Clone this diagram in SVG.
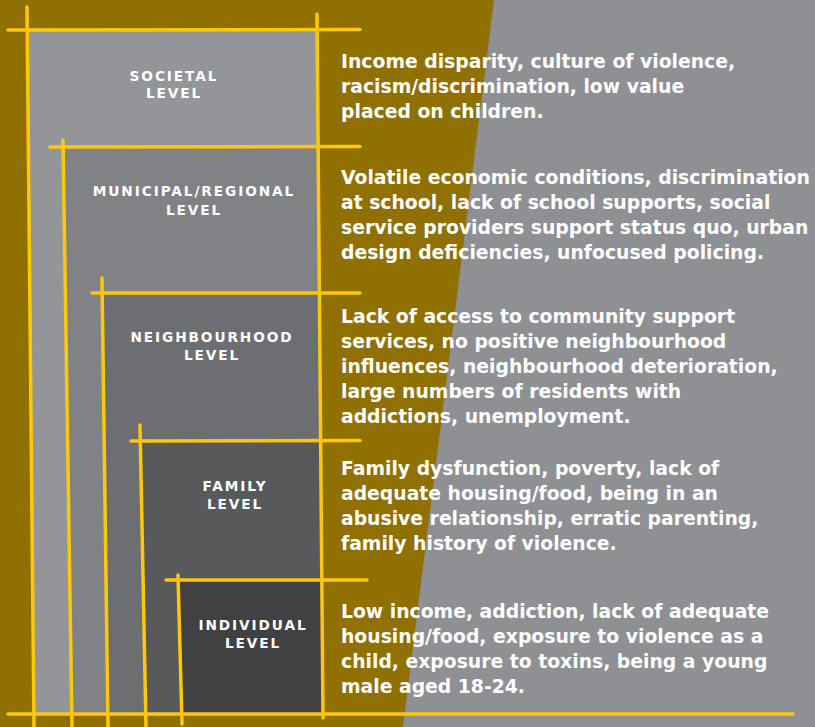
<svg xmlns="http://www.w3.org/2000/svg" width="815" height="727" viewBox="0 0 815 727">
<style>
.lbl{font-family:"DejaVu Sans","Open Sans",sans-serif;font-weight:700;font-size:13.7px;letter-spacing:1.9px;fill:#FFFFFF;text-anchor:middle}
.desc{font-family:"DejaVu Sans","Open Sans",sans-serif;font-weight:700;font-size:18.8px;fill:#FFFFFF}
.ln{stroke:#FDC80C;stroke-width:3.5;stroke-linecap:round;fill:none}
</style>
<rect x="0" y="0" width="815" height="727" fill="#8F7000"/>
<polygon points="494,0 815,0 815,727 403,727" fill="#8F9094"/>
<g id="societal">
<polygon points="27.2,30 317.1,30 323,714 33.8,714" fill="#939598"/>
<text class="lbl" x="174" y="80.5">SOCIETAL</text>
<text class="lbl" x="174" y="98">LEVEL</text>
<text class="desc" x="341" y="68">Income disparity, culture of violence,</text>
<text class="desc" x="341" y="93">racism/discrimination, low value</text>
<text class="desc" x="341" y="118">placed on children.</text>
</g>
<g id="municipal">
<polygon points="63.1,147 318.1,147 323,714 71.8,714" fill="#808285"/>
<text class="lbl" x="194" y="196">MUNICIPAL/REGIONAL</text>
<text class="lbl" x="194" y="214.5">LEVEL</text>
<text class="desc" x="341" y="184">Volatile economic conditions, discrimination</text>
<text class="desc" x="341" y="209">at school, lack of school supports, social</text>
<text class="desc" x="341" y="234">service providers support status quo, urban</text>
<text class="desc" x="341" y="259">design deficiencies, unfocused policing.</text>
</g>
<g id="neighbourhood">
<polygon points="102.2,293 319.4,293 323,714 107.8,714" fill="#6D6E71"/>
<text class="lbl" x="212" y="342">NEIGHBOURHOOD</text>
<text class="lbl" x="212" y="360">LEVEL</text>
<text class="desc" x="341" y="323">Lack of access to community support</text>
<text class="desc" x="341" y="348">services, no positive neighbourhood</text>
<text class="desc" x="341" y="373">influences, neighbourhood deterioration,</text>
<text class="desc" x="341" y="398">large numbers of residents with</text>
<text class="desc" x="341" y="423">addictions, unemployment.</text>
</g>
<g id="family">
<polygon points="140.3,441 320.6,441 323,714 145.7,714" fill="#58595B"/>
<text class="lbl" x="235" y="490.5">FAMILY</text>
<text class="lbl" x="235" y="509">LEVEL</text>
<text class="desc" x="341" y="475">Family dysfunction, poverty, lack of</text>
<text class="desc" x="341" y="500">adequate housing/food, being in an</text>
<text class="desc" x="341" y="525">abusive relationship, erratic parenting,</text>
<text class="desc" x="341" y="550">family history of violence.</text>
</g>
<g id="individual">
<polygon points="178.1,580 321.8,580 323,714 181.6,714" fill="#414042"/>
<text class="lbl" x="253" y="629.5">INDIVIDUAL</text>
<text class="lbl" x="253" y="648">LEVEL</text>
<text class="desc" x="341" y="617.5">Low income, addiction, lack of adequate</text>
<text class="desc" x="341" y="642.5">housing/food, exposure to violence as a</text>
<text class="desc" x="341" y="667.5">child, exposure to toxins, being a young</text>
<text class="desc" x="341" y="692.5">male aged 18-24.</text>
</g>
<g id="connectors">
<line class="ln" x1="8" y1="30" x2="360" y2="29.5"/>
<line class="ln" x1="50" y1="147" x2="360" y2="146.5"/>
<line class="ln" x1="92" y1="293" x2="360" y2="293"/>
<line class="ln" x1="131" y1="441" x2="360" y2="440.5"/>
<line class="ln" x1="166" y1="580" x2="367" y2="580"/>
<line class="ln" x1="8" y1="714" x2="793" y2="714"/>
<line class="ln" x1="317" y1="14" x2="323" y2="718"/>
<line class="ln" x1="27" y1="7" x2="34" y2="727"/>
<line class="ln" x1="63" y1="140" x2="72" y2="727"/>
<line class="ln" x1="102" y1="278" x2="108" y2="727"/>
<line class="ln" x1="140" y1="425" x2="146" y2="727"/>
<line class="ln" x1="178" y1="575" x2="182" y2="724"/>
</g>
</svg>
